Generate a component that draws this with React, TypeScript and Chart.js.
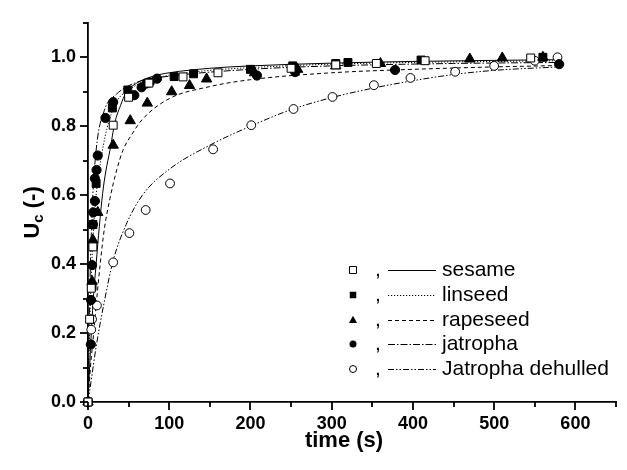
import React, { useEffect, useRef } from 'react';
import { Chart, registerables } from 'chart.js';

Chart.register(...registerables);

// ---------- measured data (time in s, Uc) ----------
const sesameT = [0, 2, 4, 6, 31, 50, 75, 117, 160, 250, 305, 355, 415, 545];
const sesameU = [0, 0.24, 0.33, 0.45, 0.803, 0.884, 0.925, 0.943, 0.955, 0.968, 0.978, 0.982, 0.99, 0.998];

const linseedT = [0, 5, 6, 10, 30, 49, 106, 130, 200, 252, 305, 320, 410, 560];
const linseedU = [0, 0.335, 0.515, 0.634, 0.853, 0.905, 0.944, 0.952, 0.965, 0.975, 0.982, 0.985, 0.992, 1.0];

const rapeseedT = [0, 5, 6, 12, 31, 52, 73, 103, 125, 146, 205, 258, 305, 360, 470, 510, 560];
const rapeseedU = [0, 0.35, 0.47, 0.55, 0.745, 0.816, 0.867, 0.9, 0.918, 0.937, 0.955, 0.965, 0.975, 0.982, 0.995, 0.998, 1.0];

const jatrophaT = [0, 3.5, 3.7, 5, 6, 6.5, 8.5, 8.5, 10.5, 12, 21.5, 31, 57, 66, 72, 76, 85, 208, 255, 378, 580];
const jatrophaU = [0, 0.167, 0.296, 0.397, 0.515, 0.55, 0.583, 0.648, 0.673, 0.715, 0.824, 0.87, 0.89, 0.913, 0.924, 0.927, 0.938, 0.947, 0.957, 0.963, 0.98];

const dehulledT = [0, 4, 5, 11, 31, 51, 71, 101, 154, 201, 253, 301, 352, 397, 452, 500, 550, 578];
const dehulledU = [0, 0.21, 0.24, 0.28, 0.405, 0.49, 0.557, 0.634, 0.733, 0.803, 0.85, 0.885, 0.919, 0.94, 0.958, 0.975, 0.99, 1.0];

// ---------- model curves ----------
const sesameFitT = [0, 3, 6, 10, 14, 18, 22, 27, 33, 40, 47, 60, 80, 100, 150, 200, 300, 400, 500, 580];
const sesameFitU = [0, 0.15, 0.28, 0.4, 0.51, 0.605, 0.67, 0.73, 0.81, 0.86, 0.898, 0.925, 0.945, 0.955, 0.968, 0.975, 0.983, 0.988, 0.991, 0.993];

const linseedFitT = [0, 2, 4, 6, 10, 15, 23, 35, 50, 70, 100, 150, 200, 300, 400, 580];
const linseedFitU = [0, 0.2, 0.36, 0.47, 0.6, 0.69, 0.79, 0.87, 0.905, 0.93, 0.948, 0.962, 0.97, 0.98, 0.985, 0.99];

const rapeseedFitT = [0, 3, 7, 10, 15, 20, 27, 35, 43, 55, 67, 100, 150, 200, 300, 400, 500, 580];
const rapeseedFitU = [0, 0.1, 0.2, 0.28, 0.4, 0.5, 0.59, 0.67, 0.73, 0.78, 0.82, 0.88, 0.915, 0.935, 0.955, 0.965, 0.972, 0.976];

const jatrophaFitT = [0, 2, 5, 10, 20, 35, 63, 100, 200, 300, 450, 580];
const jatrophaFitU = [0, 0.3, 0.55, 0.73, 0.845, 0.893, 0.93, 0.945, 0.965, 0.975, 0.982, 0.985];

const dehulledFitT = [0, 5, 10, 20, 31, 47, 67, 100, 150, 200, 250, 300, 350, 400, 450, 500, 580];
const dehulledFitU = [0, 0.08, 0.16, 0.29, 0.41, 0.515, 0.6, 0.675, 0.745, 0.8, 0.848, 0.883, 0.91, 0.932, 0.95, 0.962, 0.972];

// ---------- axes ----------
const xMin = 0;
const xMax = 650;
const xStep = 50;
const yMin = 0;
const yMax = 1.1;
const yStep = 0.1;

const seriesNames = ['sesame', 'linseed', 'rapeseed', 'jatropha', 'Jatropha dehulled'];

const FONT = "'Liberation Sans', Arial, Helvetica, sans-serif";

const toPts = (t: number[], u: number[]) => t.map((v, i) => ({ x: v, y: u[i] }));

type MarkerKind = 'openSquare' | 'filledSquare' | 'triangle' | 'filledCircle' | 'openCircle';
const markerKinds: MarkerKind[] = ['openSquare', 'filledSquare', 'triangle', 'filledCircle', 'openCircle'];
const lineDashes: number[][] = [[], [1.2, 1.8], [4, 3], [7, 2, 1.5, 2], [6, 2, 1.5, 2, 1.5, 2]];

function drawMarker(ctx: CanvasRenderingContext2D, kind: MarkerKind, x: number, y: number, s: number) {
  ctx.save();
  ctx.setLineDash([]);
  ctx.lineWidth = 1;
  ctx.strokeStyle = '#000';
  ctx.beginPath();
  if (kind === 'openSquare' || kind === 'filledSquare') {
    ctx.rect(x - s / 2, y - s / 2, s, s);
  } else if (kind === 'triangle') {
    const h = s * 0.9;
    ctx.moveTo(x, y - h * 0.6);
    ctx.lineTo(x + s / 2, y + h * 0.4);
    ctx.lineTo(x - s / 2, y + h * 0.4);
    ctx.closePath();
  } else {
    ctx.arc(x, y, s / 2, 0, Math.PI * 2);
  }
  if (kind === 'openSquare' || kind === 'openCircle') {
    ctx.fillStyle = '#fff';
    ctx.fill();
    ctx.stroke();
  } else {
    ctx.fillStyle = '#000';
    ctx.fill();
  }
  ctx.restore();
}

const decorPlugin = {
  id: 'decor',
  afterDraw(chart: any) {
    const ctx: CanvasRenderingContext2D = chart.ctx;
    const xs = chart.scales.x;
    const ys = chart.scales.y;
    const area = chart.chartArea;
    ctx.save();
    ctx.strokeStyle = '#000';
    ctx.lineWidth = 1.8;
    ctx.setLineDash([]);
    // x ticks
    for (let v = xMin; v <= xMax + 1e-9; v += xStep) {
      const px = Math.round(xs.getPixelForValue(v));
      const len = v % 100 === 0 ? 8 : 5;
      ctx.beginPath();
      ctx.moveTo(px, area.bottom);
      ctx.lineTo(px, area.bottom + len);
      ctx.stroke();
    }
    // y ticks
    for (let i = 0; i * yStep <= yMax + 1e-9; i++) {
      const v = i * yStep;
      const py = Math.round(ys.getPixelForValue(v));
      const len = i % 2 === 0 ? 8 : 5;
      ctx.beginPath();
      ctx.moveTo(area.left, py);
      ctx.lineTo(area.left - len, py);
      ctx.stroke();
    }
    // x title
    ctx.fillStyle = '#000';
    ctx.font = `bold 22px ${FONT}`;
    ctx.textAlign = 'center';
    ctx.textBaseline = 'middle';
    ctx.fillText('time (s)', 344, 441);
    // y title with subscript
    ctx.save();
    ctx.translate(31, (area.top + area.bottom) / 2);
    ctx.rotate(-Math.PI / 2);
    const big = `bold 22px ${FONT}`;
    const small = `bold 15px ${FONT}`;
    ctx.font = big;
    const wU = ctx.measureText('U').width;
    const wRest = ctx.measureText(' (-)').width;
    ctx.font = small;
    const wc = ctx.measureText('c').width;
    const total = wU + wc + wRest;
    let cx = -total / 2;
    ctx.textAlign = 'left';
    ctx.textBaseline = 'alphabetic';
    ctx.font = big;
    ctx.fillText('U', cx, 8);
    cx += wU;
    ctx.font = small;
    ctx.fillText('c', cx, 12);
    cx += wc;
    ctx.font = big;
    ctx.fillText(' (-)', cx, 8);
    ctx.restore();

    // legend
    const rowsY = [270, 295, 320, 344, 369];
    const legendSizes = [7, 6.5, 8, 7, 7];
    for (let i = 0; i < seriesNames.length; i++) {
      const y = rowsY[i];
      drawMarker(ctx, markerKinds[i], 353, y, legendSizes[i]);
      ctx.fillStyle = '#000';
      ctx.font = `21px ${FONT}`;
      ctx.textAlign = 'center';
      ctx.textBaseline = 'middle';
      ctx.fillText(',', 378, y);
      ctx.save();
      ctx.lineWidth = 1;
      ctx.setLineDash(lineDashes[i]);
      ctx.beginPath();
      ctx.moveTo(388, y + 0.5);
      ctx.lineTo(436, y + 0.5);
      ctx.stroke();
      ctx.restore();
      ctx.textAlign = 'left';
      ctx.fillText(seriesNames[i], 442, y);
    }
    ctx.restore();
  },
};

export default function App() {
  const ref = useRef<HTMLCanvasElement | null>(null);
  useEffect(() => {
    if (!ref.current) return;
    const markerData = [
      { pts: toPts(sesameT, sesameU), style: 'rect', r: 5.6, fill: '#fff' },
      { pts: toPts(linseedT, linseedU), style: 'rect', r: 5.6, fill: '#000' },
      { pts: toPts(rapeseedT, rapeseedU), style: 'triangle', r: 6, fill: '#000' },
      { pts: toPts(jatrophaT, jatrophaU), style: 'circle', r: 4.6, fill: '#000' },
      { pts: toPts(dehulledT, dehulledU), style: 'circle', r: 4.4, fill: '#fff' },
    ];
    const fits = [
      toPts(sesameFitT, sesameFitU),
      toPts(linseedFitT, linseedFitU),
      toPts(rapeseedFitT, rapeseedFitU),
      toPts(jatrophaFitT, jatrophaFitU),
      toPts(dehulledFitT, dehulledFitU),
    ];
    const datasets: any[] = [];
    markerData.forEach((m, i) => {
      datasets.push({
        label: seriesNames[i] + ' data',
        data: m.pts,
        showLine: false,
        pointStyle: m.style,
        pointRadius: m.r,
        pointBackgroundColor: m.fill,
        pointBorderColor: '#000',
        pointBorderWidth: 1,
        clip: false,
        order: 1,
      });
    });
    fits.forEach((f, i) => {
      datasets.push({
        label: seriesNames[i] + ' model',
        data: f,
        showLine: true,
        pointRadius: 0,
        borderColor: '#000',
        borderWidth: 1,
        borderDash: lineDashes[i],
        cubicInterpolationMode: 'monotone',
        fill: false,
        clip: false,
        order: 2,
      });
    });

    const chart = new Chart(ref.current, {
      type: 'scatter',
      data: { datasets },
      options: {
        animation: false,
        responsive: false,
        maintainAspectRatio: false,
        events: [],
        layout: { padding: { top: 11, right: 6, left: 0, bottom: 0 } },
        plugins: { legend: { display: false }, tooltip: { enabled: false } },
        scales: {
          x: {
            type: 'linear',
            position: 'bottom',
            min: xMin,
            max: xMax,
            afterFit: (s: any) => { s.height = 68; },
            grid: { display: false, drawTicks: false },
            border: { display: true, color: '#000', width: 1.8 },
            ticks: {
              stepSize: xStep,
              autoSkip: false,
              maxRotation: 0,
              padding: 11,
              color: '#000',
              font: { family: FONT, size: 18, weight: 'bold' },
              callback: (v: any) => (Number(v) % 100 === 0 ? String(v) : ''),
            },
          },
          y: {
            type: 'linear',
            position: 'left',
            min: yMin,
            max: yMax,
            afterFit: (s: any) => { s.width = 88; },
            grid: { display: false, drawTicks: false },
            border: { display: true, color: '#000', width: 1.8 },
            ticks: {
              stepSize: yStep,
              autoSkip: false,
              padding: 12,
              color: '#000',
              font: { family: FONT, size: 18, weight: 'bold' },
              callback: (v: any) => {
                const n = Math.round(Number(v) * 10);
                return n % 2 === 0 && n <= 10 ? (n / 10).toFixed(1) : '';
              },
            },
          },
        },
      },
      plugins: [decorPlugin],
    } as any);
    return () => chart.destroy();
  }, []);

  return (
    <div style={{ position: 'absolute', left: 0, top: 0, width: 627, height: 470, background: '#fff' }}>
      <canvas ref={ref} width={627} height={470} style={{ display: 'block' }} />
    </div>
  );
}
